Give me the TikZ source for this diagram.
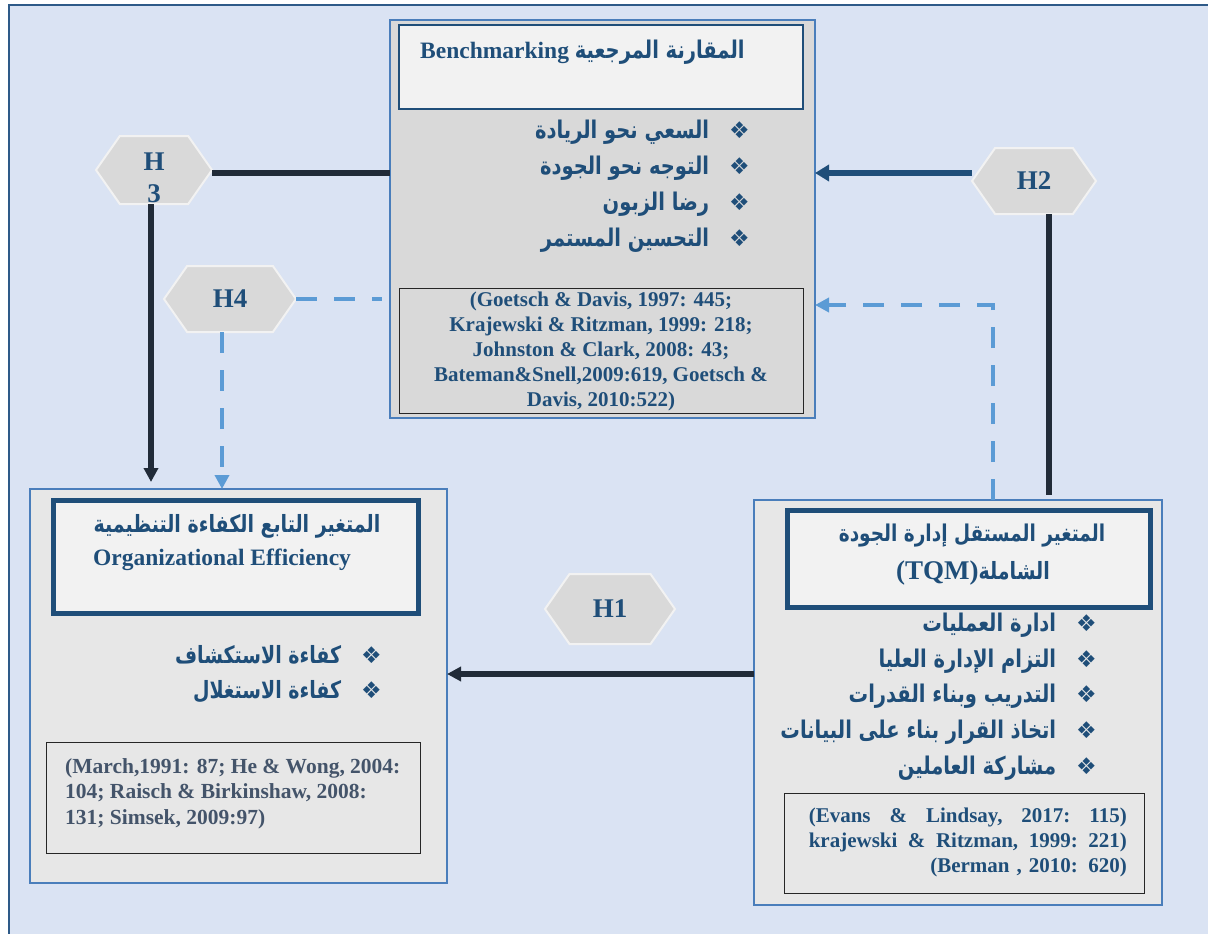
\documentclass[tikz,border=0pt]{standalone}
\usepackage{fontspec}
\usepackage{graphicx}
\setmainfont{Liberation Serif}
\newfontfamily\arfont[Script=Arabic]{DejaVu Sans}
\newfontfamily\symfont{DejaVu Sans}
\TeXXeTstate=1
\usetikzlibrary{shapes.symbols,arrows.meta}
\definecolor{bgblue}{HTML}{DAE3F3}
\definecolor{framec}{HTML}{2E5A88}
\definecolor{boxedge}{HTML}{4A7EBB}
\definecolor{tdark}{HTML}{1F4E79}
\definecolor{tgray}{HTML}{44546A}
\definecolor{graybox}{HTML}{D9D9D9}
\definecolor{lightbox}{HTML}{E7E7E7}
\definecolor{titlefill}{HTML}{F2F2F2}
\definecolor{darkline}{HTML}{212B38}
\definecolor{dashc}{HTML}{5B9BD5}
\newcommand{\artxt}[1]{\scalebox{1}[1.25]{\arfont\bfseries\beginR #1\endR}}
\newcommand{\dbul}{{\symfont\bfseries\fontsize{23}{23}\selectfont ❖}}
\newcommand{\bgap}{\hspace{20pt}}
\tikzset{
  outerbox/.style={rectangle, draw=boxedge, line width=2pt, outer sep=0pt, inner sep=0pt},
  titlebox/.style={rectangle, draw=tdark, fill=titlefill, outer sep=0pt, inner sep=0pt},
  citebox/.style={rectangle, draw=black!85, line width=1pt, outer sep=0pt, inner sep=0pt},
  hexnode/.style={signal, signal to=east and west, signal pointer angle=110,
    fill=graybox, draw=titlefill, line width=2pt, inner sep=0pt, outer sep=0pt,
    minimum width=116pt, minimum height=68pt, text=tdark, align=center,
    font=\bfseries\fontsize{27}{32}\selectfont},
  hextext/.style={text=tdark, align=center, inner sep=0pt, font=\bfseries\fontsize{27}{32}\selectfont},
  bultext/.style={text=tdark, align=right, inner sep=0pt, font=\fontsize{19.5}{36}\selectfont},
  artitle/.style={text=tdark, inner sep=0pt, font=\fontsize{19}{26}\selectfont},
  latintitle/.style={text=tdark, inner sep=0pt, font=\bfseries\fontsize{23.5}{28}\selectfont},
  cite/.style={inner sep=0pt, font=\bfseries\fontsize{21}{25}\selectfont},
  darkconn/.style={draw=darkline, line width=6pt},
  blueconn/.style={draw=tdark, line width=6pt},
  dashconn/.style={draw=dashc, line width=4pt, dash pattern=on 21pt off 17pt},
}
\begin{document}
\begin{tikzpicture}[x=1pt,y=-1pt]
\useasboundingbox (0,0) rectangle (1208,934);
\fill[white] (0,0) rectangle (1208,934);
\draw[fill=bgblue, draw=framec, line width=2.5pt] (9,5) rectangle (1220,945);

% top box
\node[outerbox, fill=graybox, minimum width=425pt, minimum height=398pt] (top) at (602.5,219) {};
\node[titlebox, line width=2pt, minimum width=404pt, minimum height=84pt] (toptitle) at (601,67) {};
\node[latintitle, anchor=west] (toptitletext) at (420,52) {Benchmarking {\fontsize{19.5}{26}\selectfont\artxt{المقارنة المرجعية}}};
\node[bultext, anchor=east] (topbul) at (750,186) {%
\artxt{السعي نحو الريادة}\bgap\dbul\\
\artxt{التوجه نحو الجودة}\bgap\dbul\\
\artxt{رضا الزبون}\bgap\dbul\\
\artxt{التحسين المستمر}\bgap\dbul};
\node[citebox, fill=graybox, minimum width=404pt, minimum height=125pt] (topcite) at (601,350.5) {};
\node[cite, text=tdark, align=center] (topcitetext) at (601,351) {(Goetsch \& Davis, 1997: 445;\\
Krajewski \& Ritzman, 1999: 218;\\
Johnston \& Clark, 2008: 43;\\
Bateman\&Snell,2009:619, Goetsch \&\\
Davis, 2010:522)};

% left box
\node[outerbox, fill=lightbox, minimum width=417pt, minimum height=394pt] (left) at (238.5,686) {};
\node[titlebox, line width=5pt, minimum width=365pt, minimum height=113pt] (lefttitle) at (235.5,556.5) {};
\node[artitle] (leftar) at (237,526) {\artxt{المتغير التابع الكفاءة التنظيمية}};
\node[latintitle] (leften) at (222,560) {Organizational Efficiency};
\node[bultext, anchor=east, font=\fontsize{19}{35}\selectfont] (leftbul) at (382,674.5) {%
\artxt{كفاءة الاستكشاف}\bgap\dbul\\
\artxt{كفاءة الاستغلال}\bgap\dbul};
\node[citebox, fill=lightbox, minimum width=374pt, minimum height=111pt] (leftcite) at (233,797.5) {};
\node[cite, text=tgray, align=left, anchor=north west, font=\bfseries\fontsize{21.5}{25.5}\selectfont] (leftcitetext) at (65,758) {(March,1991: 87; He \& Wong, 2004:\\
104; Raisch \& Birkinshaw, 2008:\\
131; Simsek, 2009:97)};

% right box
\node[outerbox, fill=lightbox, minimum width=408pt, minimum height=405pt] (right) at (958,702.5) {};
\node[titlebox, line width=5pt, minimum width=363pt, minimum height=97pt] (righttitle) at (968.5,558.5) {};
\node[artitle, font=\fontsize{18.5}{26}\selectfont] (rightar1) at (972,536) {\artxt{المتغير المستقل إدارة الجودة}};
\node[artitle] (rightar2) at (973,573) {{\bfseries\fontsize{27}{30}\selectfont (TQM)}\artxt{الشاملة}};
\node[bultext, anchor=east, font=\fontsize{19.5}{35.75}\selectfont] (rightbul) at (1097,696.5) {%
\artxt{ادارة العمليات}\bgap\dbul\\
\artxt{التزام الإدارة العليا}\bgap\dbul\\
\artxt{التدريب وبناء القدرات}\bgap\dbul\\
\artxt{اتخاذ القرار بناء على البيانات}\bgap\dbul\\
\artxt{مشاركة العاملين}\bgap\dbul};
\node[citebox, fill=lightbox, minimum width=360pt, minimum height=100pt] (rightcite) at (964,843) {};
\node[cite, text=tdark, text width=318pt, align=right, anchor=east] (rightcitetext) at (1127,842) {%
\makebox[318pt]{(Evans\hfill\&\hfill Lindsay,\hfill 2017:\hfill 115)}\\
\makebox[318pt]{krajewski\hfill\&\hfill Ritzman,\hfill 1999:\hfill 221)}\\
(Berman , 2010: 620)};

% hexagons
\node[hexnode] (h3) at (154,170) {};
\node[hextext] (h3text) at (154,178) {H\\3};
\node[hexnode, minimum width=132pt, minimum height=66pt] (h4) at (230,299) {H4};
\node[hexnode, minimum width=124pt, minimum height=66pt] (h2) at (1034,181) {H2};
\node[hexnode, minimum width=130pt, minimum height=70pt] (h1) at (610,609) {H1};

% connectors
\draw[darkconn] ([yshift=-3pt]h3.east) -- ([yshift=-3pt]h3.east -| top.west);
\draw[darkconn, -{Triangle[length=14pt,width=14pt]}, shorten >=7pt] ([xshift=-3pt]h3.south) -- ([xshift=-3pt]h3.south |- left.north);
\draw[dashconn, shorten >=8pt] (h4.east) -- (h4.east -| top.west);
\draw[dashconn, -{Triangle[length=14pt,width=14pt]}] ([xshift=-8pt]h4.south) -- ([xshift=-8pt]h4.south |- left.north);
\draw[blueconn, -{Triangle[length=14pt,width=16pt]}] ([yshift=8pt]h2.west) -- ([yshift=8pt]h2.west -| top.east);
\draw[darkconn, shorten >=5pt] ([xshift=15pt]h2.south) -- ([xshift=15pt]h2.south |- right.north);
\draw[dashconn, -{Triangle[length=14pt,width=14pt]}] ([xshift=35pt]right.north) |- ([yshift=-86pt]top.east);
\draw[darkconn, -{Triangle[length=14pt,width=14pt]}] ([yshift=28.5pt]right.west) -- ([yshift=28.5pt]right.west -| left.east);
\end{tikzpicture}
\end{document}
